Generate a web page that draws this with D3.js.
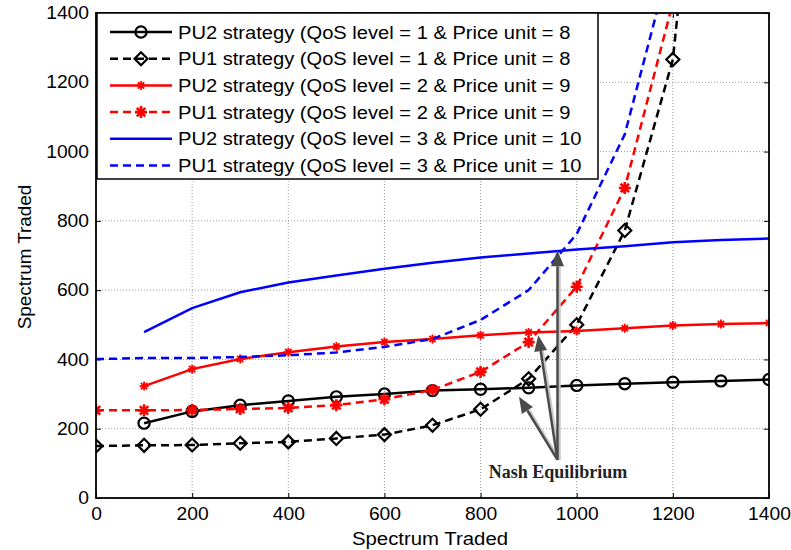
<!DOCTYPE html>
<html>
<head>
<meta charset="utf-8">
<script src="https://cdn.jsdelivr.net/npm/d3@7"></script>
<style>
  html, body { margin: 0; padding: 0; background: #fff; }
  svg { display: block; }
</style>
</head>
<body>
<svg id="chart" width="791" height="550"></svg>
<script>
// Axis ticks
const xTicks = [0, 200, 400, 600, 800, 1000, 1200, 1400];
const yTicks = [0, 200, 400, 600, 800, 1000, 1200, 1400];

// Offered spectrum (x) for each curve
const xFull = [0, 100, 200, 300, 400, 500, 600, 700, 800, 900, 1000, 1100, 1200, 1300];
const xFrom100 = [100, 200, 300, 400, 500, 600, 700, 800, 900, 1000, 1100, 1200, 1300, 1400];

// PU2 strategies (best response of PU2)
const pu2Qos1 = [216, 250, 268, 280, 292, 300, 310, 314, 318, 325, 330, 334, 338, 342];
const pu2Qos2 = [323, 372, 401, 421, 437, 450, 459, 470, 478, 482, 490, 498, 502, 505];
const pu2Qos3 = [479, 548, 594, 622, 642, 662, 679, 694, 706, 717, 727, 738, 745, 749];

// PU1 strategies (best response of PU1)
const pu1Qos1 = [150, 152, 153, 158, 162, 172, 183, 210, 256, 344, 500, 772, 1266, 2600];
const pu1Qos2 = [253, 253, 254, 257, 260, 268, 285, 312, 364, 450, 610, 895, 1430, 2400];
const pu1Qos3 = [401, 404, 404, 407, 412, 420, 436, 459, 514, 600, 762, 1050, 1580, 2400];

const legendLabels = [
  "PU2 strategy (QoS level = 1 & Price unit = 8",
  "PU1 strategy (QoS level = 1 & Price unit = 8",
  "PU2 strategy (QoS level = 2 & Price unit = 9",
  "PU1 strategy (QoS level = 2 & Price unit = 9",
  "PU2 strategy (QoS level = 3 & Price unit = 10",
  "PU1 strategy (QoS level = 3 & Price unit = 10"
];

const series = [
  { xs: xFrom100, ys: pu2Qos1, color: "#000", dash: null, marker: "circle" },
  { xs: xFull, ys: pu1Qos1, color: "#000", dash: "8,5", marker: "diamond" },
  { xs: xFrom100, ys: pu2Qos2, color: "#ff0000", dash: null, marker: "starSmall" },
  { xs: xFull, ys: pu1Qos2, color: "#ff0000", dash: "8,5", marker: "starBig" },
  { xs: xFrom100, ys: pu2Qos3, color: "#0000ff", dash: null, marker: null },
  { xs: xFull, ys: pu1Qos3, color: "#0000ff", dash: "8,5", marker: null }
];

const svg = d3.select("#chart");
const pLeft = 96, pRight = 769, pTop = 13, pBottom = 498;
const x = d3.scaleLinear().domain([0, 1400]).range([pLeft, pRight]);
const y = d3.scaleLinear().domain([0, 1400]).range([pBottom, pTop]);
const font = "'Liberation Sans', Arial, sans-serif";
const stretch = 1.1; // glyphs are drawn slightly wide

// dotted grid
const grid = svg.append("g");
xTicks.slice(1, -1).forEach(t => {
  grid.append("line").attr("x1", x(t)).attr("x2", x(t)).attr("y1", pTop).attr("y2", pBottom)
    .attr("stroke", "#808080").attr("stroke-width", 0.8).attr("stroke-dasharray", "1,2");
});
yTicks.slice(1, -1).forEach(t => {
  grid.append("line").attr("x1", pLeft).attr("x2", pRight).attr("y1", y(t)).attr("y2", y(t))
    .attr("stroke", "#808080").attr("stroke-width", 0.8).attr("stroke-dasharray", "1,2");
});

// axes with inward ticks
const axB = svg.append("g").attr("transform", `translate(0,${pBottom})`)
  .call(d3.axisBottom(x).tickValues(xTicks).tickSize(-5).tickPadding(10).tickFormat(d3.format("d")));
const axL = svg.append("g").attr("transform", `translate(${pLeft},0)`)
  .call(d3.axisLeft(y).tickValues(yTicks).tickSize(-5).tickPadding(7).tickFormat(d3.format("d")));
const axT = svg.append("g").attr("transform", `translate(0,${pTop})`)
  .call(d3.axisTop(x).tickValues(xTicks).tickSize(-5).tickFormat(""));
const axR = svg.append("g").attr("transform", `translate(${pRight},0)`)
  .call(d3.axisRight(y).tickValues(yTicks).tickSize(-5).tickFormat(""));
[axB, axL, axT, axR].forEach(a => {
  a.select(".domain").remove();
  a.selectAll(".tick line").attr("stroke", "#000").attr("stroke-width", 1);
  a.selectAll("text").attr("font-family", font).attr("font-size", 17.5).attr("fill", "#000");
});
axB.selectAll("text").attr("dy", "0.71em").attr("y", 10).attr("transform", `scale(${stretch},1)`);
axL.selectAll("text").attr("x", -7 / stretch).attr("transform", `scale(${stretch},1)`);

// clip region for curves
svg.append("defs").append("clipPath").attr("id", "plotClip")
  .append("rect").attr("x", pLeft).attr("y", pTop).attr("width", pRight - pLeft).attr("height", pBottom - pTop);

const markerLayer = (g, type, cx, cy, color) => {
  if (type === "circle") {
    g.append("circle").attr("cx", cx).attr("cy", cy).attr("r", 5.6)
      .attr("fill", "none").attr("stroke", color).attr("stroke-width", 2.2);
  } else if (type === "diamond") {
    const s = 6.5;
    g.append("path").attr("d", `M${cx},${cy - s}L${cx + s},${cy}L${cx},${cy + s}L${cx - s},${cy}Z`)
      .attr("fill", "none").attr("stroke", color).attr("stroke-width", 2.2);
  } else if (type === "starSmall" || type === "starBig") {
    const s = type === "starSmall" ? 4.5 : 6;
    const w = type === "starSmall" ? 1.8 : 2.6;
    const p = `M${cx - s},${cy}L${cx + s},${cy}M${cx},${cy - s}L${cx},${cy + s}` +
      `M${cx - s * 0.7},${cy - s * 0.7}L${cx + s * 0.7},${cy + s * 0.7}` +
      `M${cx - s * 0.7},${cy + s * 0.7}L${cx + s * 0.7},${cy - s * 0.7}`;
    g.append("path").attr("d", p).attr("fill", "none").attr("stroke", color).attr("stroke-width", w);
  }
};

const plot = svg.append("g").attr("clip-path", "url(#plotClip)");
const line = d3.line().x(d => x(d[0])).y(d => y(d[1]));
series.forEach(s => {
  const pts = s.xs.map((v, i) => [v, s.ys[i]]);
  plot.append("path").datum(pts).attr("d", line)
    .attr("fill", "none").attr("stroke", s.color).attr("stroke-width", 2.5)
    .attr("stroke-dasharray", s.dash);
  if (s.marker) {
    pts.forEach(p => markerLayer(plot, s.marker, x(p[0]), y(p[1]), s.color));
  }
});

// plot frame
svg.append("rect").attr("x", pLeft).attr("y", pTop).attr("width", pRight - pLeft).attr("height", pBottom - pTop)
  .attr("fill", "none").attr("stroke", "#000").attr("stroke-width", 1.8);

// Nash equilibrium annotation
const tail = [x(960), y(110)];
const targets = [[x(880), y(292)], [x(920), y(470)], [x(960), y(715)]];
const ann = svg.append("g");
targets.forEach(t => {
  const dx = t[0] - tail[0], dy = t[1] - tail[1];
  const len = Math.hypot(dx, dy), ux = dx / len, uy = dy / len;
  const head = 16, hw = 6.5;
  const bx = t[0] - ux * head, by = t[1] - uy * head;
  // soft light shadow beside the shaft
  ann.append("line").attr("x1", tail[0] + 2).attr("y1", tail[1]).attr("x2", bx + 2).attr("y2", by)
    .attr("stroke", "#c8c8c8").attr("stroke-width", 2.5);
  ann.append("line").attr("x1", tail[0]).attr("y1", tail[1]).attr("x2", bx).attr("y2", by)
    .attr("stroke", "#4a4a4a").attr("stroke-width", 2.5);
  ann.append("path")
    .attr("d", `M${t[0]},${t[1]}L${bx - uy * hw},${by + ux * hw}L${bx + uy * hw},${by - ux * hw}Z`)
    .attr("fill", "#4a4a4a");
});
ann.append("text").attr("x", 558).attr("y", 478).attr("text-anchor", "middle")
  .attr("font-family", "'Liberation Serif', 'Times New Roman', serif").attr("font-weight", "bold")
  .attr("font-size", 18).attr("fill", "#222").text("Nash Equilibrium");

// legend
const lg = svg.append("g");
lg.append("rect").attr("x", 97).attr("y", 13).attr("width", 501).attr("height", 166)
  .attr("fill", "#fff").attr("stroke", "#000").attr("stroke-width", 1.5);
legendLabels.forEach((lab, i) => {
  const s = series[i];
  const cy = 32 + i * 26.7;
  lg.append("line").attr("x1", 110).attr("x2", 172).attr("y1", cy).attr("y2", cy)
    .attr("stroke", s.color).attr("stroke-width", 2.5).attr("stroke-dasharray", s.dash);
  if (s.marker) markerLayer(lg, s.marker, 141, cy, s.color);
  lg.append("text").attr("transform", `translate(178,${cy}) scale(${stretch},1)`).attr("dy", "0.36em")
    .attr("font-family", font).attr("font-size", 18.3).attr("fill", "#000").text(lab);
});

// axis titles
svg.append("text").attr("transform", `translate(430,545) scale(${stretch},1)`).attr("text-anchor", "middle")
  .attr("font-family", font).attr("font-size", 18.5).text("Spectrum Traded");
svg.append("text").attr("transform", `translate(31,257) rotate(-90) scale(1.02,1)`).attr("text-anchor", "middle")
  .attr("font-family", font).attr("font-size", 18.5).text("Spectrum Traded");
</script>
</body>
</html>
